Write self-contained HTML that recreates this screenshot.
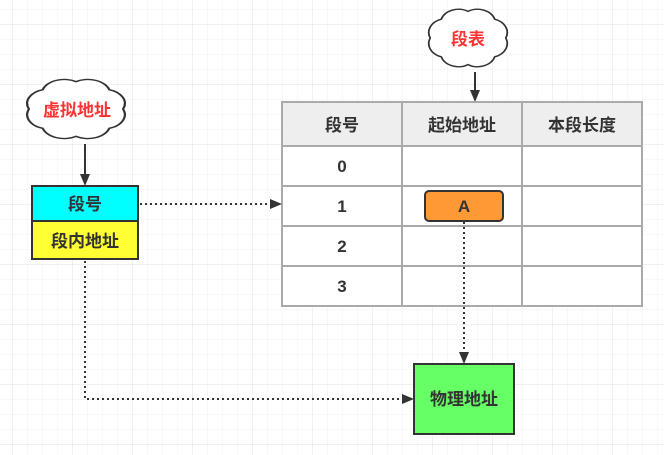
<!DOCTYPE html>
<html><head><meta charset="utf-8"><style>
html,body{margin:0;padding:0;background:#fff;}
svg{display:block;}
text{font-family:"Liberation Sans","Noto Sans CJK SC",sans-serif;font-weight:bold;}
</style></head><body>
<svg width="664" height="455" viewBox="0 0 664 455" xmlns="http://www.w3.org/2000/svg">
<defs>
<pattern id="minor" x="12" y="9" width="15" height="15" patternUnits="userSpaceOnUse">
<path d="M0 0H15M0 0V15" stroke="#f0f0f0" stroke-width="1" fill="none"/>
</pattern>
<pattern id="major" x="12" y="24" width="60" height="60" patternUnits="userSpaceOnUse">
<path d="M0 0H60M0 0V60" stroke="#e2e2e2" stroke-width="1" fill="none"/>
</pattern>
<path id="cloud" d="M92 50A20 20 0 0 1 79.7 76.9A20 20 0 0 1 50 88A20 20 0 0 1 20.3 76.9A20 20 0 0 1 8 50A20 20 0 0 1 20.3 23.1A20 20 0 0 1 50 12A20 20 0 0 1 79.7 23.1A20 20 0 0 1 92 50Z"/>
</defs>
<rect width="664" height="455" fill="#fff"/>
<rect width="664" height="455" fill="url(#minor)"/>
<rect width="664" height="455" fill="url(#major)"/>

<g transform="translate(20,73) scale(1.12,0.72)">
<use href="#cloud" fill="#fff" stroke="#333" stroke-width="2" vector-effect="non-scaling-stroke"/>
</g>
<text x="77" y="116" font-size="17" fill="#ff3333" text-anchor="middle">虚拟地址</text>
<line x1="85" y1="144" x2="85" y2="176" stroke="#333" stroke-width="2"/>
<path d="M80 174L85 186L90 174Z" fill="#333"/>

<g transform="translate(423,3) scale(0.9,0.7)">
<use href="#cloud" fill="#fff" stroke="#333" stroke-width="2" vector-effect="non-scaling-stroke"/>
</g>
<text x="468" y="45" font-size="17" fill="#ff3333" text-anchor="middle">段表</text>
<line x1="475" y1="72" x2="475" y2="92" stroke="#333" stroke-width="2"/>
<path d="M470 90L475 102L480 90Z" fill="#333"/>

<rect x="32" y="186" width="106" height="35" fill="#00ffff" stroke="#333" stroke-width="2"/>
<rect x="32" y="221" width="106" height="38" fill="#ffff33" stroke="#333" stroke-width="2"/>
<text x="85" y="210" font-size="17" fill="#333" text-anchor="middle">段号</text>
<text x="85" y="247" font-size="17" fill="#333" text-anchor="middle">段内地址</text>

<rect x="282" y="102" width="360" height="44" fill="#eeeeee"/>
<rect x="282" y="146" width="360" height="160" fill="#fff"/>
<g stroke="#aaa" stroke-width="2" fill="none">
<rect x="282" y="102" width="360" height="204"/>
<line x1="402" y1="102" x2="402" y2="306"/>
<line x1="522" y1="102" x2="522" y2="306"/>
<line x1="282" y1="146" x2="642" y2="146"/>
<line x1="282" y1="186" x2="642" y2="186"/>
<line x1="282" y1="226" x2="642" y2="226"/>
<line x1="282" y1="266" x2="642" y2="266"/>
</g>
<g font-size="17" fill="#333" text-anchor="middle">
<text x="342" y="131">段号</text>
<text x="462" y="131">起始地址</text>
<text x="582" y="131">本段长度</text>
<text x="342" y="172">0</text>
<text x="342" y="212">1</text>
<text x="342" y="252">2</text>
<text x="342" y="292">3</text>
</g>
<rect x="425" y="191" width="78" height="30" rx="4" fill="#ff9933" stroke="#333" stroke-width="2"/>
<text x="464" y="212" font-size="17" fill="#333" text-anchor="middle">A</text>

<g stroke="#333" stroke-width="2" stroke-dasharray="2 3" fill="none">
<line x1="140" y1="204" x2="270" y2="204"/>
<line x1="464" y1="222" x2="464" y2="352"/>
<path d="M85 261V399H402"/>
</g>
<path d="M270 199L282 204L270 209Z" fill="#333"/>
<path d="M459 352L464 364L469 352Z" fill="#333"/>
<path d="M402 394L414 399L402 404Z" fill="#333"/>

<rect x="414" y="364" width="100" height="70" fill="#66ff66" stroke="#333" stroke-width="2"/>
<text x="464" y="405" font-size="17" fill="#333" text-anchor="middle">物理地址</text>
</svg>
</body></html>
